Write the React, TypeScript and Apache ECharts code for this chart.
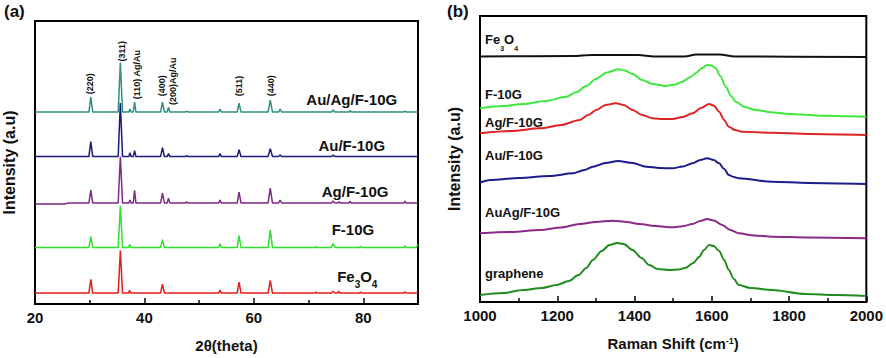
import React, { useEffect, useRef } from "react";
import * as echarts from "echarts";

// ---------- Panel (a): XRD ----------
const xrdNames = ["Fe3O4", "F-10G", "Ag/F-10G", "Au/F-10G", "Au/Ag/F-10G"];
const xrdColors = ["#e31c1c", "#2fe02f", "#7f2a85", "#1a1a80", "#2f8f80"];
const xrdOffsets = [11, 57, 102, 149, 194];
const xrdFe3O4 = [[20,0],[29.85,0],[30.2,14],[30.55,0],[35.2,0],[35.6,43],[36.0,0],[37.1,0],[37.3,3],[37.5,0],[42.95,0],[43.3,9],[43.65,0],[53.55,0],[53.8,3],[54.05,0],[56.95,0],[57.3,11],[57.65,0],[62.6,0],[63.0,13],[63.4,0],[71.1,0],[71.3,1],[71.5,0],[74.2,0],[74.5,2],[74.8,0],[75.3,0],[75.5,2],[75.7,0],[79.3,0],[79.5,1],[79.7,0],[87.4,0],[87.6,1.5],[87.8,0],[90,0]];
const xrdF10G = [[20,0],[29.85,0],[30.2,11],[30.55,0],[35.2,0],[35.6,42],[36.0,0],[37.1,0],[37.3,3],[37.5,0],[42.95,0],[43.3,8],[43.65,0],[53.55,0],[53.8,4],[54.05,0],[56.95,0],[57.3,12],[57.65,0],[62.6,0],[63.0,18],[63.4,0],[71.1,0],[71.3,1],[71.5,0],[74.1,0],[74.5,4],[74.9,0],[79.3,0],[79.5,1.5],[79.7,0],[87.4,0],[87.6,2],[87.8,0],[89.6,0],[90,3]];
const xrdAgF10G = [[20,-1],[25.5,-1],[26,0],[29.85,0],[30.2,13],[30.55,0],[35.2,0],[35.6,47],[36.0,0],[37.15,0],[37.35,3],[37.55,0],[37.95,0],[38.2,13],[38.45,0],[42.95,0],[43.3,10],[43.65,0],[44.15,0],[44.4,5],[44.65,0],[47.5,0],[47.7,1.5],[47.9,0],[53.55,0],[53.8,3],[54.05,0],[56.95,0],[57.3,11],[57.65,0],[62.6,0],[63.0,15],[63.4,0],[64.5,0],[64.8,3],[65.1,0],[74.2,0],[74.5,2],[74.8,0],[75.4,0],[75.6,1.5],[75.8,0],[77.4,0],[77.6,2],[77.8,0],[87.4,0],[87.6,2],[87.8,0],[90,0]];
const xrdAuF10G = [[20,0],[29.85,0],[30.2,15],[30.55,0],[35.2,0],[35.6,54],[36.0,0],[37.15,0],[37.35,4],[37.55,0],[37.95,0],[38.2,6],[38.45,0],[42.95,0],[43.3,9],[43.65,0],[44.15,0],[44.4,3],[44.65,0],[47.5,0],[47.7,1],[47.9,0],[53.55,0],[53.8,3],[54.05,0],[56.95,0],[57.3,7],[57.65,0],[62.6,0],[63.0,8],[63.4,0],[64.5,0],[64.8,1.5],[65.1,0],[74.2,0],[74.5,1.5],[74.8,0],[90,0]];
const xrdAuAgF10G = [[20,0],[29.85,0],[30.2,15],[30.55,0],[35.2,0],[35.6,50],[36.0,0],[37.15,0],[37.35,3],[37.55,0],[37.95,0],[38.2,10],[38.45,0],[42.95,0],[43.3,10],[43.65,0],[44.15,0],[44.4,5],[44.65,0],[47.5,0],[47.7,1],[47.9,0],[53.55,0],[53.8,3],[54.05,0],[56.95,0],[57.3,9],[57.65,0],[62.6,0],[63.0,12],[63.4,0],[64.5,0],[64.8,3],[65.1,0],[74.2,0],[74.5,2],[74.8,0],[77.4,0],[77.6,1.5],[77.8,0],[87.4,0],[87.6,1],[87.8,0],[90,0]];
const xrdSeries = [xrdFe3O4, xrdF10G, xrdAgF10G, xrdAuF10G, xrdAuAgF10G];
const xrdLabelAnchors = [[78.9, 25], [78.1, 75], [78.5, 114], [77.9, 160], [77.9, 207]];
const xrdPeakLabels = ["(220)", "(311)", "(110) Ag/Au", "(400)", "(200)Ag/Au", "(511)", "(440)"];
const xrdPeakLabelAnchors = [[30.05, 212], [35.9, 245], [38.65, 207], [43.2, 210], [45.2, 201], [57.3, 210], [63.1, 210]];
const xrdTicks = { min: 20, max: 90, interval: 20 };

// ---------- Panel (b): Raman ----------
const ramanNames = ["graphene", "AuAg/F-10G", "Au/F-10G", "Ag/F-10G", "F-10G", "Fe3O4"];
const ramanColors = ["#1f8c1f", "#8a2a8a", "#1c1c8a", "#e02424", "#3ee83e", "#111111"];
const ramanGraphene = [[1000,7],[1060,9],[1112,12],[1160,14],[1198,17],[1230,21],[1255,27],[1275,34],[1292,42],[1315,51],[1335,57],[1355,59],[1372,58],[1395,52],[1418,44],[1438,37],[1460,33],[1490,32],[1515,32.5],[1533,34.3],[1552,39],[1567,45],[1580,52],[1593,57],[1605,56],[1619,51],[1632,42],[1644,32],[1657,23],[1670,17],[1700,14],[1756,12],[1842,8],[1920,7],[2000,6]];
const ramanAuAg = [[1000,68.7],[1080,70],[1155,72],[1210,74.5],[1258,78],[1300,80],[1344,81.3],[1380,80],[1412,78],[1455,76],[1498,74.7],[1525,75.8],[1550,78],[1570,81],[1588,83],[1605,81.5],[1627,77],[1648,72],[1670,68.7],[1710,66.5],[1756,65.3],[1850,64.5],[2000,63.7]];
const ramanAu = [[1000,119.3],[1026,122],[1100,124],[1180,126],[1241,128.7],[1270,132],[1292,135.3],[1325,139],[1357,141],[1395,139],[1430,135.3],[1465,134],[1498,133.7],[1525,135.5],[1550,138.7],[1570,142],[1588,143.7],[1605,142],[1619,138.7],[1632,133],[1644,127],[1657,125],[1670,123.7],[1756,120.3],[1850,119],[2000,118]];
const ramanAg = [[1000,168.7],[1080,171],[1155,173.7],[1210,177],[1258,182],[1280,187],[1301,192],[1325,197],[1352,198.7],[1372,197],[1395,192],[1420,187],[1447,183.7],[1475,183],[1498,183],[1525,185],[1550,188.7],[1572,194],[1593,198],[1605,196.5],[1619,190.3],[1632,182],[1644,175.3],[1660,172],[1679,170.3],[1756,169.3],[1850,168],[2000,167]];
const ramanF10G = [[1000,193.7],[1060,196],[1112,198],[1170,201],[1223,205.3],[1250,210],[1275,216],[1300,223],[1327,229.3],[1357,232.7],[1375,231.5],[1395,228],[1420,222],[1447,218],[1481,216],[1505,217.5],[1524,220.3],[1545,225],[1558,228.7],[1575,234],[1588,237],[1600,236.5],[1610,233.7],[1622,226],[1636,215.3],[1650,206],[1662,200.3],[1685,195],[1713,192],[1760,189.5],[1799,188],[1885,186.3],[2000,185.3]];
const ramanFe3O4 = [[1000,245.5],[1240,246],[1290,247],[1410,247],[1450,245.5],[1530,245.5],[1560,247.5],[1620,247.5],[1660,245.5],[2000,245]];
const ramanSeries = [ramanGraphene, ramanAuAg, ramanAu, ramanAg, ramanF10G, ramanFe3O4];
const ramanLabelAnchors = [[1013, 29], [1013, 90], [1013, 147], [1013, 180], [1013, 208], [1013, 260]];
const ramanTicks = { min: 1000, max: 2000, interval: 200 };

const FONT = "'Liberation Sans', Arial, sans-serif";

function subRich(main: number, sub: number) {
  return {
    n: { fontSize: main, fontWeight: "bold", fontFamily: FONT, fill: "#111", lineHeight: main + 6, verticalAlign: "top" },
    s: { fontSize: sub, fontWeight: "bold", fontFamily: FONT, fill: "#111", lineHeight: sub, verticalAlign: "bottom" },
  };
}

export default function App() {
  const ref = useRef<HTMLDivElement>(null);
  useEffect(() => {
    if (!ref.current) return;
    const chart = echarts.init(ref.current, null, { renderer: "svg" });
    const axisX = (gi: number, t: { min: number; max: number; interval: number }, name: string, showMax: boolean) => ({
      type: "value",
      gridIndex: gi,
      min: t.min,
      max: t.max,
      interval: t.interval,
      name,
      nameLocation: "middle",
      nameGap: 34,
      nameTextStyle: { fontFamily: FONT, fontWeight: "bold", fontSize: 15, color: "#111", rich: { sup: { fontSize: 9, fontWeight: "bold", fontFamily: FONT, verticalAlign: "top", lineHeight: 9 } } },
      axisLine: { show: true, lineStyle: { color: "#000", width: 2 } },
      axisTick: { show: true, inside: true, length: 6, lineStyle: { color: "#000", width: 1.5 } },
      minorTick: { show: true, splitNumber: 2, length: 4, lineStyle: { color: "#000", width: 1.5 } },
      axisLabel: { fontFamily: FONT, fontWeight: "bold", fontSize: 15, color: "#111", margin: 6, showMaxLabel: showMax, formatter: (v: number) => String(v) },
      splitLine: { show: false },
    });
    const axisY = (gi: number) => ({
      type: "value",
      gridIndex: gi,
      min: 0,
      max: 286,
      name: "Intensity (a.u)",
      nameLocation: "middle",
      nameGap: 18,
      nameTextStyle: { fontFamily: FONT, fontWeight: "bold", fontSize: 16, color: "#111" },
      axisLine: { show: true, lineStyle: { color: "#000", width: 2 } },
      axisTick: { show: false },
      axisLabel: { show: false },
      splitLine: { show: false },
    });
    const series: any[] = [];
    xrdSeries.forEach((pts, i) => {
      series.push({
        type: "line",
        name: xrdNames[i],
        xAxisIndex: 0,
        yAxisIndex: 0,
        showSymbol: false,
        lineStyle: { color: xrdColors[i], width: 1.5 },
        data: pts.map(([x, y]) => [x, y + xrdOffsets[i]]),
      });
    });
    ramanSeries.forEach((pts, i) => {
      series.push({
        type: "line",
        name: ramanNames[i],
        xAxisIndex: 1,
        yAxisIndex: 1,
        showSymbol: false,
        smooth: 0.3,
        smoothMonotone: "x",
        lineStyle: { color: ramanColors[i], width: 2 },
        data: pts,
      });
    });
    chart.setOption({
      animation: false,
      backgroundColor: "#fff",
      grid: [
        { left: 35, top: 21, width: 383, height: 286, show: true, borderColor: "#000", borderWidth: 2, backgroundColor: "transparent" },
        { left: 480, top: 16, width: 388, height: 286, show: true, borderColor: "#000", borderWidth: 2, backgroundColor: "transparent" },
      ],
      xAxis: [axisX(0, xrdTicks, "2θ(theta)", false), axisX(1, ramanTicks, "Raman Shift (cm{sup|-1})", true)],
      yAxis: [axisY(0), axisY(1)],
      series,
    });

    const graphics: any[] = [];
    graphics.push({ type: "text", left: 4, top: 3, style: { text: "(a)", fontFamily: FONT, fontWeight: "bold", fontSize: 17, fill: "#111" } });
    graphics.push({ type: "text", left: 447, top: 3, style: { text: "(b)", fontFamily: FONT, fontWeight: "bold", fontSize: 17, fill: "#111" } });
    xrdNames.forEach((n, i) => {
      const [px, py] = chart.convertToPixel({ gridIndex: 0 }, xrdLabelAnchors[i]) as number[];
      const isFe = n === "Fe3O4";
      graphics.push({
        type: "text",
        x: px,
        y: py,
        style: isFe
          ? { text: "{n|Fe}{s|3}{n|O}{s|4}", rich: subRich(15, 10), align: "center", verticalAlign: "middle" }
          : { text: n, fontFamily: FONT, fontWeight: "bold", fontSize: 15, fill: "#111", align: "center", verticalAlign: "middle" },
      });
    });
    xrdPeakLabels.forEach((t, i) => {
      const [px, py] = chart.convertToPixel({ gridIndex: 0 }, xrdPeakLabelAnchors[i]) as number[];
      graphics.push({
        type: "text",
        x: px,
        y: py,
        rotation: Math.PI / 2,
        style: { text: t, fontFamily: FONT, fontWeight: "bold", fontSize: 9, fill: "#111", align: "left", verticalAlign: "middle" },
      });
    });
    ramanNames.forEach((n, i) => {
      const [px, py] = chart.convertToPixel({ gridIndex: 1 }, ramanLabelAnchors[i]) as number[];
      const isFe = n === "Fe3O4";
      graphics.push({
        type: "text",
        x: px,
        y: py,
        style: isFe
          ? { text: "{n|Fe}{s|3}{n|O}{s|4}", rich: subRich(13, 7), align: "left", verticalAlign: "middle" }
          : { text: n, fontFamily: FONT, fontWeight: "bold", fontSize: 13, fill: "#111", align: "left", verticalAlign: "middle" },
      });
    });
    chart.setOption({ graphic: graphics });
    return () => chart.dispose();
  }, []);
  return <div ref={ref} style={{ position: "fixed", left: 0, top: 0, width: 886, height: 358 }} />;
}
